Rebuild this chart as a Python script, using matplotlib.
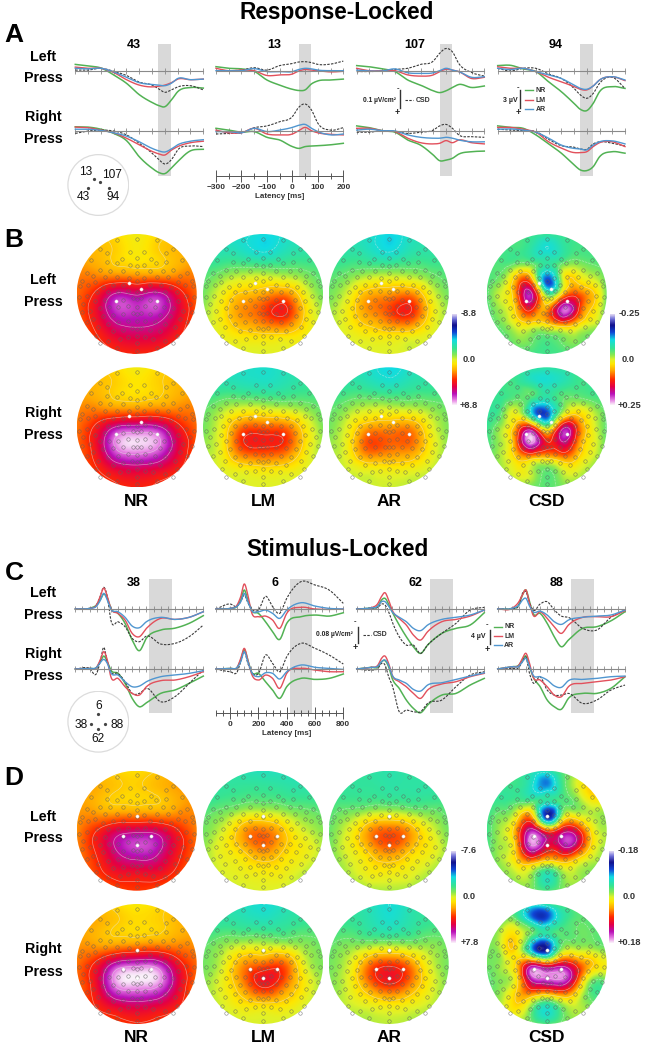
import numpy as np
import matplotlib
matplotlib.use("Agg")
import matplotlib.pyplot as plt
import matplotlib.tri as mtri
from matplotlib.colors import LinearSegmentedColormap
from matplotlib.patches import Circle

plt.rcParams['font.family'] = ['Liberation Sans', 'DejaVu Sans']

W, H = 645, 1050

# ---------- waveforms, response locked (amplitude, positive is drawn downwards)
times_a = [-300, -250, -200, -150, -100, -50, 0, 25, 50, 75, 100, 150, 200]

a43l_nr = [-1.05, -.8, -.45, .7, 2.1, 4.0, 5.3, 5.8, 6.0, 4.9, 3.5, 2.8, 2.9]
a43l_lm = [-.6, -.4, -.4, .3, 1.5, 2.4, 2.7, 2.6, 2.4, 2.0, 1.4, 1.5, 1.4]
a43l_ar = [-.4, -.3, -.4, .2, 1.1, 2.0, 2.3, 2.4, 2.5, 2.1, 1.3, 1.5, 1.4]
a43l_csd = [-.1, -.1, -.4, .1, .8, 1.9, 2.4, 3.0, 3.6, 3.2, 2.7, 2.5, 3.2]
a43r_nr = [-.7, -.65, -.3, .4, 1.6, 4.3, 6.2, 6.9, 7.1, 6.2, 5.1, 3.3, 3.05]
a43r_lm = [-.65, -.55, -.15, .3, 1.2, 2.3, 3.4, 3.8, 4.0, 3.2, 2.6, 1.95, 1.7]
a43r_ar = [-.3, -.3, -.1, .3, .85, 1.8, 2.9, 3.3, 3.5, 3.0, 2.3, 1.7, 1.45]
a43r_csd = [.4, 0, -.15, 0, .65, 2.05, 3.7, 4.7, 5.5, 4.8, 3.15, 2.5, 2.6]

a13l_nr = [-.67, -.4, -.3, .1, 1.55, 2.4, 3.1, 3.3, 3.2, 2.2, 1.7, 1.55, 1.4]
a13l_lm = [-.4, 0, -.1, 0, .8, .7, .55, .05, -.2, -.1, 0, .2, .1]
a13l_ar = [0, 0, 0, -.35, .15, .15, .15, -.2, -.4, -.3, -.1, 0, 0]
a13l_csd = [.05, 0, -.1, -.5, -.1, -.85, -1.2, -1.45, -1.5, -1.35, -1.05, -1.1, -1.6]
a13r_nr = [-.45, -.15, .2, .1, 1.05, 1.5, 2.6, 2.9, 2.6, 2.5, 2.45, 2.3, 2.05]
a13r_lm = [-.15, .3, .3, -.45, .5, .65, .5, -.05, -.6, -.05, .3, .55, .65]
a13r_ar = [.1, .1, .3, -.45, .1, -.15, -.6, -.95, -1.1, -.45, .1, .65, .5]
a13r_csd = [.5, .4, .3, -.55, -.85, -1.55, -2.4, -3.95, -4.5, -3.5, -1.3, -.15, -.55]

a107l_nr = [-.85, -.65, -.3, .15, 1.55, 2.4, 3.35, 3.65, 3.35, 2.8, 2.3, 2.8, 2.55]
a107l_lm = [-.4, 0, 0, 0, .7, .9, .7, .15, -.25, -.1, .15, 1.3, 1.1]
a107l_ar = [-.1, .05, .05, -.3, .35, .45, .35, 0, -.4, -.1, .15, 1.1, 1.0]
a107l_csd = [.15, .15, .05, -.2, -.4, -1.05, -1.6, -2.9, -3.7, -3.15, -1.2, .3, .9]
a107r_nr = [-.85, -.55, -.05, .2, 1.5, 2.35, 4.0, 4.95, 4.85, 4.55, 3.85, 3.45, 3.35]
a107r_lm = [-.45, -.45, -.05, .1, 1.2, 1.95, 2.15, 2.05, 1.6, 1.95, 1.5, 1.95, 2.15]
a107r_ar = [-.15, -.3, -.05, 0, .65, 1.05, 1.2, 1.2, 1.05, 1.2, 1.5, 1.8, 1.8]
a107r_csd = [.2, .2, -.05, .1, .4, .2, -.15, -.85, -1.1, -.45, .65, .95, 1.05]

a94l_nr = [-.85, -.9, -.3, .15, 1.85, 3.5, 5.45, 6.45, 6.65, 5.45, 3.5, 2.65, 2.95]
a94l_lm = [-.65, -.4, -.4, .15, 1.1, 1.85, 2.65, 3.1, 3.2, 2.55, 1.55, 1.0, 1.65]
a94l_ar = [-.4, -.2, -.4, .15, .7, 1.3, 2.4, 2.95, 3.1, 2.55, 1.55, 1.0, 1.55]
a94l_csd = [-.4, .05, -.4, -.4, .55, 1.3, 2.95, 4.05, 4.6, 3.8, 2.1, 1.1, 2.95]
a94r_nr = [-.85, -.6, -.45, .65, 2.15, 3.7, 5.65, 6.5, 6.6, 5.95, 4.3, 3.45, 3.7]
a94r_lm = [-.6, -.6, -.3, .2, 1.8, 2.85, 3.6, 3.6, 3.45, 2.6, 1.95, 1.8, 2.6]
a94r_ar = [-.3, -.35, -.15, .2, 1.2, 2.35, 2.9, 3.0, 3.15, 2.35, 1.8, 1.65, 2.15]
a94r_csd = [-.3, -.15, -.05, .1, 1.4, 2.45, 2.7, 3.0, 3.05, 2.15, 1.8, 2.05, 2.5]

# ---------- waveforms, stimulus locked
times_c = [-100, 0, 50, 75, 100, 125, 150, 200, 250, 300, 350, 400, 500, 600, 700, 800]

c38l_nr = [0, -.15, -1.0, -2.2, -3.6, -2.55, -.15, 1.05, 3.45, 7.45, 10, 7.0, 5.05, 4.6, 3.45, 1.6]
c38l_lm = [0, -.15, -1, -3, -5, -3, -.15, 1.05, 2.65, 5.85, 6.65, 4.65, 2.25, 2.5, 2.0, .65]
c38l_ar = [0, -.15, -.7, -2, -3.75, -2.15, 0, .65, 2, 4.1, 4.5, 3.05, 2, 2.5, 2, .65]
c38l_csd = [0, -.15, -1, -3, -5.2, -3, 2.65, 3.05, 4.25, 7.05, 7.85, 6.5, 8.4, 8.25, 6.65, 3.85]
c38r_nr = [0, -.15, -.4, -1.75, -3.1, -1.75, .25, 1.05, 3.45, 7.05, 9.05, 8.1, 5.85, 5.05, 3.45, 1.7]
c38r_lm = [0, -.15, -.4, -2.15, -4.15, -2.15, 1.85, 2.25, 4.25, 5.85, 6.25, 4.25, 2.8, 2.65, 1.85, .65]
c38r_ar = [0, -.15, -.4, -1.5, -2.3, -1.35, .9, 1.45, 3.05, 4.25, 4.1, 3.05, 1.85, 1.45, 1.05, .4]
c38r_csd = [0, -.15, 1.05, -1.75, -5.2, -1.75, .65, 1.05, 3.05, 5.85, 5.85, 4.65, 7.85, 6.65, 3.45, .25]

c6l_nr = [0, -.15, -.7, -2.15, -4.55, -2.15, .25, 1.05, 3.05, 5.45, 7.3, 3.45, 1.85, 1.45, 1.7, .9]
c6l_lm = [0, -.15, -1, -3, -6, -3.35, .65, 1.85, 1.7, 2.65, 4.65, 1.05, -.4, 0, .1, 0]
c6l_ar = [0, -.15, -.7, -1.75, -3.75, -1.75, .25, .65, .25, 1.05, 2.25, .25, -1.5, -.7, -.15, 0]
c6l_csd = [0, -1.2, -.7, -1.75, -3.35, -1.5, -.15, .25, -3.05, -.55, 1.05, -2.55, -6.55, -5.75, -4.55, -1.35]
c6r_nr = [0, -.15, -.4, -2.15, -4.7, -2.15, .65, 1.05, 3.05, 5.05, 7.05, 4.25, 2.25, 2.5, 2.25, 1.2]
c6r_lm = [0, -.15, -.4, -2.55, -4.95, -2.15, 1.05, 2.65, 1.45, 2.25, 4.65, 1.05, -.15, .25, .65, .65]
c6r_ar = [0, -.15, -.4, -1.75, -4.15, -1.75, .65, 1.85, .9, 1.05, 2.4, .65, -.95, -.4, -.15, .1]
c6r_csd = [0, .65, .65, -1.75, -4.15, -1.35, .65, 1.05, -3.35, -1.35, .65, -2.95, -6.15, -4.95, -3.35, -1.2]

c62l_nr = [0, -.25, -.7, -2.15, -2.55, -1.2, .65, 3.85, 6.65, 9.05, 10.65, 8.65, 5.85, 4.65, 3.85, .9]
c62l_lm = [0, -.25, -1.35, -3, -3.9, -2.15, .25, 2.25, 3.85, 6.25, 7.45, 5.45, 3.05, 2.5, 1.7, .25]
c62l_ar = [0, -.25, -.7, -1.75, -1.75, -.7, .65, 2, 3.05, 4.65, 5.2, 3.85, 2.5, 2, 1.45, .25]
c62l_csd = [0, -.25, -.4, -1.2, -.95, .65, 3.05, 6.65, 8.65, 8.65, 10.65, 8.65, 5.85, 3.45, .25, -.4]
c62r_nr = [0, -.4, -.55, -1.75, -2, -.55, 2.25, 4.65, 7.45, 9.45, 10.5, 8.65, 6.25, 5.85, 3.85, 2.25]
c62r_lm = [0, -.4, -.95, -2.55, -3.1, -1.35, 1.45, 3.05, 4.25, 5.85, 7.05, 5.05, 3.6, 3.05, 1.85, 1.05]
c62r_ar = [0, -.4, -.7, -1.75, -2.15, -.95, 1.45, 2.65, 3.45, 4.9, 5.3, 3.85, 3.3, 2.5, 1.7, .9]
c62r_csd = [0, .25, -.15, -1.35, -.95, 1.85, 3.85, 10.25, 9.85, 10.25, 10.25, 8.25, 7.45, 4.25, 1.45, .65]

c88l_nr = [0, -.15, -1.05, -3.35, -4.55, -1.75, 1.05, 1.05, 3.45, 6.65, 9.05, 7.45, 4.65, 4.25, 2.85, .65]
c88l_lm = [0, -.15, -1.75, -3.35, -4.55, -1.35, 1.45, .65, 2.25, 4.25, 5.85, 3.85, 2, 1.85, 1.85, .4]
c88l_ar = [0, -.15, -.95, -2.15, -2.55, -.7, .65, .5, 1.45, 3.05, 3.7, 2.65, 2, 1.7, 1.45, .25]
c88l_csd = [0, -.15, -.95, -3.75, -4.15, -1.5, .25, -1.2, -1.75, .25, 1.7, 2, 4.65, 5.05, 2, .25]
c88r_nr = [0, -.55, -.95, -2.15, -3.1, -.55, 1.85, 4.25, 7.45, 9.05, 9.65, 7.05, 5.85, 5.85, 4.65, 1.85]
c88r_lm = [0, -.55, -.95, -2.55, -3.75, -1.35, 1.85, 2.65, 4.25, 6.25, 6.65, 4.25, 3.45, 3.05, 2.65, 1.85]
c88r_ar = [0, -.55, -.7, -1.75, -2.55, -.55, 1.45, 1.85, 2.65, 4.05, 4.4, 2.8, 2.5, 2.25, 1.85, 1.7]
c88r_csd = [0, -.15, -.4, -1.75, -2.8, 1.05, 3.3, 1.85, 5.05, 6.25, 6.25, 5.85, 8.25, 7.45, 5.05, 3.85]

# ---------- topographies, in percent of the colour scale, rows run front to back
b_nr_l = [[22, 17, 12, 6, 12, 17, 22], [24, 20, 14, 8, 14, 20, 24], [30, 28, 26, 24, 24, 27, 30],
          [34, 50, 72, 68, 74, 55, 34], [36, 55, 78, 78, 78, 60, 37], [36, 46, 60, 64, 62, 50, 36],
          [32, 37, 44, 46, 44, 37, 28]]
b_nr_r = [[22, 17, 12, 6, 12, 17, 22], [22, 20, 14, 10, 14, 20, 24], [28, 28, 24, 24, 26, 28, 30],
          [32, 50, 72, 76, 74, 52, 34], [35, 55, 90, 96, 90, 62, 37], [36, 46, 62, 66, 62, 50, 34],
          [32, 36, 44, 47, 44, 36, 32]]
b_lm_l = [[-35, -35, -38, -42, -38, -30, -30], [-30, -30, -33, -38, -32, -28, -25], [-20, -12, -6, -5, -8, -12, -20],
          [-14, 5, 18, 24, 30, 8, -14], [-8, 10, 28, 38, 48, 18, -6], [-5, 4, 12, 15, 15, 8, -5],
          [-5, 0, 0, 0, 2, 0, -5]]
b_lm_r = [[-32, -35, -36, -38, -34, -30, -28], [-30, -28, -30, -32, -30, -26, -24], [-18, -8, -2, -3, -6, -10, -18],
          [-14, 6, 34, 36, 34, 12, -12], [-8, 8, 42, 46, 42, 14, -8], [-8, 2, 10, 14, 12, 4, -10],
          [-8, -4, 0, 0, 0, -4, -10]]
b_ar_l = [[-30, -32, -36, -44, -36, -30, -28], [-28, -28, -32, -38, -30, -28, -24], [-20, -14, -8, -6, -8, -14, -20],
          [-14, 2, 22, 26, 30, 6, -14], [-8, 8, 26, 38, 46, 14, -8], [-6, 2, 8, 12, 10, 2, -8],
          [-6, -2, 0, 0, 0, -4, -8]]
b_ar_r = [[-30, -32, -36, -44, -36, -30, -26], [-28, -26, -28, -32, -28, -26, -22], [-18, -10, -4, -4, -6, -10, -16],
          [-14, 4, 24, 26, 28, 6, -12], [-8, 8, 38, 34, 32, 10, -10], [-8, 0, 8, 10, 8, 0, -10],
          [-10, -6, -2, -2, -4, -8, -12]]
b_csd_l = [[-22, -22, -22, -24, -26, -24, -22, -22, -22], [-22, -22, -22, -30, -40, -30, -22, -22, -22],
           [-20, -20, -14, -15, -28, -15, -10, -16, -20], [-20, -10, 25, 20, -60, -5, 12, 0, -16],
           [-18, 0, 35, 72, -18, 15, 38, 20, -14], [-20, -5, 22, 48, 25, 82, 55, 15, -16],
           [-22, -12, 5, 10, 14, 30, 16, 0, -18], [-22, -20, -10, -14, -20, -14, -10, -18, -22],
           [-22, -22, -22, -22, -22, -22, -22, -22, -22]]
b_csd_r = [[-24, -24, -24, -26, -28, -26, -24, -24, -24], [-24, -24, -24, -32, -38, -32, -24, -24, -24],
           [-20, -24, -18, -20, -30, -18, -16, -20, -22], [-26, -16, 0, -45, -60, -10, 10, -2, -18],
           [-24, -6, 28, 45, -10, 60, 42, 5, -18], [-22, -5, 38, 92, 48, 68, 35, 5, -16],
           [-20, -4, 18, 25, 20, 30, 18, 0, -18], [-22, -8, 4, -4, -18, -4, 0, -10, -20],
           [-24, -20, -14, -14, -18, -14, -14, -18, -24]]

d_nr_l = [[22, 18, 14, 12, 16, 22, 25], [24, 22, 16, 14, 18, 24, 26], [26, 24, 22, 22, 22, 26, 28],
          [28, 46, 62, 66, 64, 48, 30], [30, 48, 70, 80, 74, 52, 34], [32, 42, 54, 56, 56, 44, 32],
          [28, 32, 38, 42, 38, 32, 28]]
d_nr_r = [[22, 18, 12, 8, 12, 18, 20], [24, 22, 16, 12, 14, 20, 24], [26, 24, 24, 26, 28, 28, 26],
          [32, 50, 76, 82, 80, 54, 34], [34, 56, 92, 96, 92, 62, 32], [35, 48, 62, 66, 62, 50, 32],
          [30, 34, 40, 45, 42, 35, 28]]
d_lm_l = [[-28, -28, -32, -34, -34, -32, -28], [-30, -26, -24, -24, -26, -28, -28], [-20, -14, -6, -4, -8, -14, -18],
          [-14, 0, 24, 32, 18, 0, -10], [-10, 4, 16, 28, 16, 6, -6], [-8, 0, 4, 8, 6, -2, -10],
          [-10, -4, -2, 0, -2, -8, -14]]
d_lm_r = [[-30, -30, -34, -40, -34, -30, -28], [-28, -26, -28, -30, -28, -24, -22], [-18, -10, -4, -4, -6, -10, -16],
          [-14, 0, 26, 34, 36, 4, -12], [-10, 4, 28, 50, 36, 10, -8], [-8, 0, 10, 14, 12, 2, -10],
          [-10, -4, -2, 0, -2, -6, -12]]
d_ar_l = [[-26, -26, -28, -30, -28, -26, -26], [-24, -26, -26, -28, -28, -28, -26], [-20, -14, -8, -6, -10, -14, -20],
          [-16, 2, 26, 36, 26, 4, -14], [-14, 2, 18, 30, 18, 6, -10], [-14, -4, 6, 8, 4, -4, -12],
          [-14, -12, -8, -6, -8, -12, -14]]
d_ar_r = [[-26, -28, -32, -40, -32, -26, -24], [-24, -24, -30, -36, -30, -24, -22], [-18, -12, -10, -8, -10, -10, -16],
          [-14, 0, 30, 42, 30, 2, -14], [-12, 2, 30, 46, 32, 6, -12], [-12, -2, 4, 10, 6, -2, -12],
          [-14, -10, -6, -4, -6, -10, -14]]
d_csd_l = [[-22, -22, -24, -32, -34, -20, -10, -12, -16], [-22, -24, -24, -38, -52, -24, 0, 15, 0],
           [-24, -24, -20, -20, -30, -20, -12, 6, 0], [-24, -12, 8, 20, -70, -10, 4, -4, -10],
           [-22, -4, 30, 78, 40, 60, 55, 10, -6], [-22, -6, 25, 88, 60, 70, 60, 12, -8],
           [-20, -6, 14, 30, 14, 22, 10, -4, -14], [-22, -12, -4, -10, -34, -12, -6, -14, -20],
           [-22, -20, -14, -14, -20, -14, -14, -18, -22]]
d_csd_r = [[-16, -16, -20, -34, -30, -20, -16, -18, -20], [-18, -16, -18, -50, -58, -30, -18, -20, -20],
           [-16, 0, 8, -16, -30, -18, -16, -16, -18], [-12, 0, 8, -50, -70, -10, -4, -6, -12],
           [-14, -6, 18, 58, 40, 58, 40, 18, 6], [-18, -10, 12, 78, 85, 88, 45, -8, -10],
           [-16, -6, 18, 28, 20, 30, 10, -20, -22], [-16, -4, 10, -16, -38, -16, -4, -12, -20],
           [-18, -14, -10, -14, -20, -14, -12, -16, -20]]

# electrode layout, right half in head radius / 180, mirrored when drawn
mid_y = [-166, -108, -83, -62, -40, -5, 15, 38, 60, 82, 105, 125, 148, 170]
half_x = [60, 110, 89, 21, 44, 137, 59, 89, 21, 40, 80, 110, 150, 130, 22, 60, 95, 125, 165, 40, 72, 102, 145, 170,
          25, 55, 85, 120, 148, 172, 12, 40, 95, 125, 160, 25, 55, 82, 110, 140, 165, 12, 40, 70, 100, 130, 150,
          25, 55, 85, 115, 14, 40, 70, 122, 25, 50, 85, 60, 110]
half_y = [-162, -134, -122, -127, -104, -102, -92, -95, -88, -70, -70, -72, -64, -55, -48, -50, -50, -35, -40, -28, -28,
          -22, -28, -25, -8, -5, -5, -5, 5, 10, 12, 18, 18, 22, 30, 35, 40, 40, 42, 50, 55, 58, 60, 62, 65, 75, 85,
          80, 85, 90, 100, 102, 108, 112, 125, 130, 135, 140, 162, 148]

# highlighted sites, head radius units
sites_a_x = [-.13, .07, -.34, .34]
sites_a_y = [-.19, -.09, .11, .11]
sites_c_x = [0, -.22, .23, 0]
sites_c_y = [-.24, .08, .08, .24]

cmap = LinearSegmentedColormap.from_list("topo", [
    (0.0, "#ded6f2"), (0.05, "#7070d8"), (0.12, "#10108c"), (0.2, "#1048d8"), (0.28, "#10dce4"),
    (0.38, "#38e490"), (0.45, "#8ae850"), (0.5, "#e0f228"), (0.55, "#ffe600"), (0.62, "#ffa800"),
    (0.72, "#ff2800"), (0.8, "#e40044"), (0.88, "#b810b8"), (0.95, "#e884e4"), (1.0, "#faf0fa")])

C_NR, C_LM, C_AR, C_CSD = "#52b254", "#e2505c", "#5096d0", "#3a3a3a"

fig = plt.figure(figsize=(W / 100, H / 100), dpi=100, facecolor="white")


def axes_px(x0, y0, x1, y1, **kw):
    return fig.add_axes([x0 / W, 1 - y1 / H, (x1 - x0) / W, (y1 - y0) / H], **kw)


# page axes in pixels, only used for text and small furniture
page = axes_px(0, 0, W, H, zorder=10)
page.set_xlim(0, W)
page.set_ylim(H, 0)
page.axis("off")
page.patch.set_alpha(0)


def label(x, y, s, size, ha="center", weight="bold", color="black"):
    page.text(x, y, s, fontsize=size, ha=ha, va="center", fontweight=weight, color=color)


def smooth(x, y):
    x = np.array(x, float)
    y = np.array(y, float)
    m = np.gradient(y, x)
    xs, ys = [], []
    for i in range(len(x) - 1):
        h = x[i + 1] - x[i]
        t = np.linspace(0, 1, 12, endpoint=False)
        xs.append(x[i] + t * h)
        ys.append((2 * t**3 - 3 * t**2 + 1) * y[i] + (t**3 - 2 * t**2 + t) * h * m[i]
                  + (-2 * t**3 + 3 * t**2) * y[i + 1] + (t**3 - t**2) * h * m[i + 1])
    xs.append(x[-1:])
    ys.append(y[-1:])
    return np.concatenate(xs), np.concatenate(ys)


def draw_trace_row(x0, x1, base, ppu, times, xlim, xticks, traces):
    ax = axes_px(x0, base - 42, x1, base + 47, zorder=3)
    ax.patch.set_alpha(0)
    ax.set_xlim(*xlim)
    ax.set_ylim(47 / ppu, -42 / ppu)
    for s in ["top", "left", "right"]:
        ax.spines[s].set_visible(False)
    ax.spines["bottom"].set_position(("data", 0))
    ax.spines["bottom"].set_color("#8a8a8a")
    ax.spines["bottom"].set_linewidth(.8)
    ax.set_yticks([])
    ax.set_xticks(xticks)
    ax.tick_params(axis="x", direction="inout", length=5, width=.6, color="#8a8a8a", labelbottom=False)
    nr, lm, ar, csd = traces
    for vals, col, ls, lw in [(nr, C_NR, "-", 1.1), (csd, C_CSD, (0, (2.2, 1.2)), .8), (lm, C_LM, "-", 1.0), (ar, C_AR, "-", 1.0)]:
        xs, ys = smooth(times, vals)
        ax.plot(xs, ys, color=col, ls=ls, lw=lw, clip_on=False)


def draw_span(x0, x1, y0, y1, xlim, span):
    ax = axes_px(x0, y0, x1, y1, zorder=1)
    ax.set_xlim(*xlim)
    ax.set_ylim(0, 1)
    ax.axis("off")
    ax.axvspan(span[0], span[1], color="#d9d9d9", lw=0)


def draw_latency_axis(x0, x1, y, xlim, major, minor, size):
    ax = axes_px(x0, y - 1, x1, y, zorder=3)
    ax.patch.set_alpha(0)
    ax.set_xlim(*xlim)
    ax.set_yticks([])
    for s in ["top", "left", "right"]:
        ax.spines[s].set_visible(False)
    ax.spines["bottom"].set_color("#555555")
    ax.spines["bottom"].set_linewidth(.7)
    ax.set_xticks(major)
    ax.set_xticks(minor, minor=True)
    ax.tick_params(axis="x", which="major", direction="inout", length=8, width=.7, color="#555555",
                   labelsize=size, labelcolor="#333333", pad=2)
    ax.tick_params(axis="x", which="minor", direction="inout", length=5, width=.7, color="#555555")
    for t in ax.get_xticklabels():
        t.set_fontweight("bold")


def draw_topo(cx, cy, values, sites_x, sites_y):
    r = 60
    ax = axes_px(cx - r, cy - r, cx + r, cy + r, zorder=2)
    ax.set_xlim(-1, 1)
    ax.set_ylim(1, -1)
    ax.axis("off")
    z = np.array(values, float) / 100
    g = np.linspace(-1, 1, z.shape[0])
    gx, gy = np.meshgrid(g, g)
    tri = mtri.Triangulation(gx.ravel(), gy.ravel())
    interp = mtri.CubicTriInterpolator(tri, z.ravel(), kind="min_E")
    f = np.linspace(-1, 1, 241)
    fx, fy = np.meshgrid(f, f)
    zi = np.ma.filled(interp(fx, fy), 0.0)
    clip = Circle((0, 0), 1, transform=ax.transData)
    im = ax.imshow(zi, extent=(-1, 1, 1, -1), origin="upper", cmap=cmap, vmin=-1, vmax=1,
                   interpolation="bilinear", aspect="auto")
    im.set_clip_path(clip)
    cs = ax.contour(fx, fy, zi, levels=[-.4, -.16, .16, .46, .7, .88], colors="#e6e6e6", linewidths=.45, alpha=.6)
    cs.set_clip_path(clip)
    ex = np.array(mid_y) * 0.0
    ey = np.array(mid_y) / 180
    hx = np.array(half_x) / 180
    hy = np.array(half_y) / 180
    ax.plot(np.concatenate([ex, hx, -hx]), np.concatenate([ey, hy, hy]), ls="none", marker="o", ms=2.5,
            mfc="none", mec="#606060", mew=.4, alpha=.8)
    ax.plot(sites_x, sites_y, ls="none", marker="o", ms=2.3, mfc="white", mec="#dddddd", mew=.3)


def draw_colorbar(x0, y0, x1, y1):
    ax = axes_px(x0, y0, x1, y1, zorder=2)
    ax.imshow(np.linspace(-1, 1, 200).reshape(-1, 1), cmap=cmap, vmin=-1, vmax=1, aspect="auto")
    ax.axis("off")


def draw_inset(cx, cy, sites_x, sites_y):
    r = 31
    ax = axes_px(cx - r, cy - r, cx + r, cy + r, zorder=2)
    ax.set_xlim(-1, 1)
    ax.set_ylim(1, -1)
    ax.axis("off")
    ax.add_patch(Circle((0, 0), .98, fc="white", ec="#dcdcdc", lw=.9))
    ax.plot(sites_x, sites_y, ls="none", marker="o", ms=1.3, color="#444444")


def draw_scale_block(bar_x, bar_y0, bar_y1, pm_x, minus_y, plus_y):
    page.plot([bar_x, bar_x], [bar_y0, bar_y1], color="#333333", lw=1.0)
    label(pm_x, minus_y, "-", 5.5, color="#222222")
    label(pm_x, plus_y, "+", 6.5, color="#222222")


# ---------- panel A
lim_a = (-300, 200)
ticks_a = np.arange(-300, 201, 50)
cols_x = [(75.3, 203.3), (216, 343.3), (356.7, 484.3), (497.7, 625)]
rows_a = [
    ([a43l_nr, a43l_lm, a43l_ar, a43l_csd], [a43r_nr, a43r_lm, a43r_ar, a43r_csd]),
    ([a13l_nr, a13l_lm, a13l_ar, a13l_csd], [a13r_nr, a13r_lm, a13r_ar, a13r_csd]),
    ([a107l_nr, a107l_lm, a107l_ar, a107l_csd], [a107r_nr, a107r_lm, a107r_ar, a107r_csd]),
    ([a94l_nr, a94l_lm, a94l_ar, a94l_csd], [a94r_nr, a94r_lm, a94r_ar, a94r_csd]),
]
for (x0, x1), (left, right) in zip(cols_x, rows_a):
    draw_span(x0, x1, 43.7, 175.7, lim_a, (25, 75))
    draw_trace_row(x0, x1, 70.7, 6, times_a, lim_a, ticks_a, left)
    draw_trace_row(x0, x1, 131, 6, times_a, lim_a, ticks_a, right)
draw_latency_axis(216, 343.3, 176, lim_a, np.arange(-300, 201, 100), np.arange(-250, 200, 100), 6)
label(279.5, 196.5, "Latency [ms]", 5.8, color="#333333")
for x, s in zip([133.5, 274.5, 415, 556], ["43", "13", "107", "94"]):
    label(x, 45, s, 9)

# ---------- panel C
lim_c = (-100, 800)
ticks_c = np.arange(-100, 801, 50)
rows_c = [
    ([c38l_nr, c38l_lm, c38l_ar, c38l_csd], [c38r_nr, c38r_lm, c38r_ar, c38r_csd]),
    ([c6l_nr, c6l_lm, c6l_ar, c6l_csd], [c6r_nr, c6r_lm, c6r_ar, c6r_csd]),
    ([c62l_nr, c62l_lm, c62l_ar, c62l_csd], [c62r_nr, c62r_lm, c62r_ar, c62r_csd]),
    ([c88l_nr, c88l_lm, c88l_ar, c88l_csd], [c88r_nr, c88r_lm, c88r_ar, c88r_csd]),
]
for (x0, x1), (left, right) in zip(cols_x, rows_c):
    draw_span(x0, x1, 579.3, 712.7, lim_c, (420, 580))
    draw_trace_row(x0, x1, 609, 4.17, times_c, lim_c, ticks_c, left)
    draw_trace_row(x0, x1, 669, 4.17, times_c, lim_c, ticks_c, right)
draw_latency_axis(216, 343.3, 713, lim_c, np.arange(0, 801, 200), np.arange(-100, 801, 50), 6)
label(287, 733.5, "Latency [ms]", 5.8, color="#333333")
for x, s in zip([134, 274.5, 415.7, 556], ["38", "6", "62", "88"]):
    label(x, 582.7, s, 9)

# ---------- topographies
map_x = [136.7, 263, 388.7, 546.7]
for x, l, r in zip(map_x, [b_nr_l, b_lm_l, b_ar_l, b_csd_l], [b_nr_r, b_lm_r, b_ar_r, b_csd_r]):
    draw_topo(x, 294, l, sites_a_x, sites_a_y)
    draw_topo(x, 427.3, r, sites_a_x, sites_a_y)
for x, l, r in zip(map_x, [d_nr_l, d_lm_l, d_ar_l, d_csd_l], [d_nr_r, d_lm_r, d_ar_r, d_csd_r]):
    draw_topo(x, 830.7, l, sites_c_x, sites_c_y)
    draw_topo(x, 964, r, sites_c_x, sites_c_y)
for x, s in zip(map_x, ["NR", "LM", "AR", "CSD"]):
    label(x, 501.7, s, 12.5)
    label(x, 1038, s, 12.5)

draw_colorbar(451.7, 314, 456.2, 405)
draw_colorbar(610, 314, 614.5, 405)
draw_colorbar(451, 850.7, 455.5, 942.7)
draw_colorbar(609.3, 850.7, 613.8, 942.7)
for x, y, s in [(461, 314, "-8.8"), (462.3, 360, "0.0"), (460, 406, "+8.8"),
                (618.3, 314, "-0.25"), (622, 360, "0.0"), (617.7, 406, "+0.25"),
                (461, 850.7, "-7.6"), (462.3, 896.7, "0.0"), (461, 942.7, "+7.8"),
                (618, 850.7, "-0.18"), (622.7, 896.7, "0.0"), (618, 942.7, "+0.18")]:
    label(x, y, s, 6.7, ha="left", color="#333333")

# ---------- insets
draw_inset(98.3, 185, sites_a_x, sites_a_y)
draw_inset(98.3, 721.7, sites_c_x, sites_c_y)
for x, y, s in [(85.7, 172, "13"), (111.7, 175, "107"), (83, 197, "43"), (113, 197, "94"),
                (98.3, 706, "6"), (81, 725.3, "38"), (117.3, 725.3, "88"), (98.3, 739.3, "62")]:
    label(x, y, s, 8.6, weight="normal", color="#111111")

# ---------- scale bars and legends
draw_scale_block(400, 90, 108.3, 397.7, 89, 112.3)
label(396, 100, "0.1 µV/cm²", 4.8, ha="right", color="#222222")
page.plot([405, 413.3], [100, 100], color=C_CSD, lw=.8, ls=(0, (2.2, 1.2)))
label(415.7, 100, "CSD", 5, ha="left", color="#333333")
draw_scale_block(520.3, 90, 108.3, 518.3, 88, 112.3)
label(517.3, 100, "3 µV", 5, ha="right", color="#222222")
for y, s, c in [(90.3, "NR", C_NR), (100, "LM", C_LM), (109.3, "AR", C_AR)]:
    page.plot([525, 533.3], [y, y], color=c, lw=1)
    label(535.7, y, s, 5, ha="left", color="#333333")

draw_scale_block(357.7, 626.7, 643.3, 355, 621.7, 647.3)
label(353.3, 635, "0.08 µV/cm²", 4.8, ha="right", color="#222222")
page.plot([363.3, 371], [635, 635], color=C_CSD, lw=.8, ls=(0, (2.2, 1.2)))
label(372.7, 635, "CSD", 5, ha="left", color="#333333")
draw_scale_block(490, 630, 644, 487, 625, 649.3)
label(485.7, 636.3, "4 µV", 5, ha="right", color="#222222")
for y, s, c in [(626.7, "NR", C_NR), (636.3, "LM", C_LM), (645.3, "AR", C_AR)]:
    page.plot([494, 502.3], [y, y], color=c, lw=1)
    label(504.3, y, s, 5, ha="left", color="#333333")

# ---------- headings and row names
label(337, 13, "Response-Locked", 16.3)
label(337, 549, "Stimulus-Locked", 16.3)
for y, s in [(35, "A"), (240, "B"), (573, "C"), (778, "D")]:
    label(14, y, s, 19)
for y1, y2, y3, y4 in [(57, 78, 117, 139), (280, 301.7, 413, 435), (593, 615, 654, 675.7), (816.7, 838, 949, 971.7)]:
    label(43, y1, "Left", 10.3)
    label(43, y2, "Press", 10.3)
    label(43.5, y3, "Right", 10.3)
    label(43, y4, "Press", 10.3)

page.set_xlim(0, W)
page.set_ylim(H, 0)
fig.savefig("out.png", dpi=100)
